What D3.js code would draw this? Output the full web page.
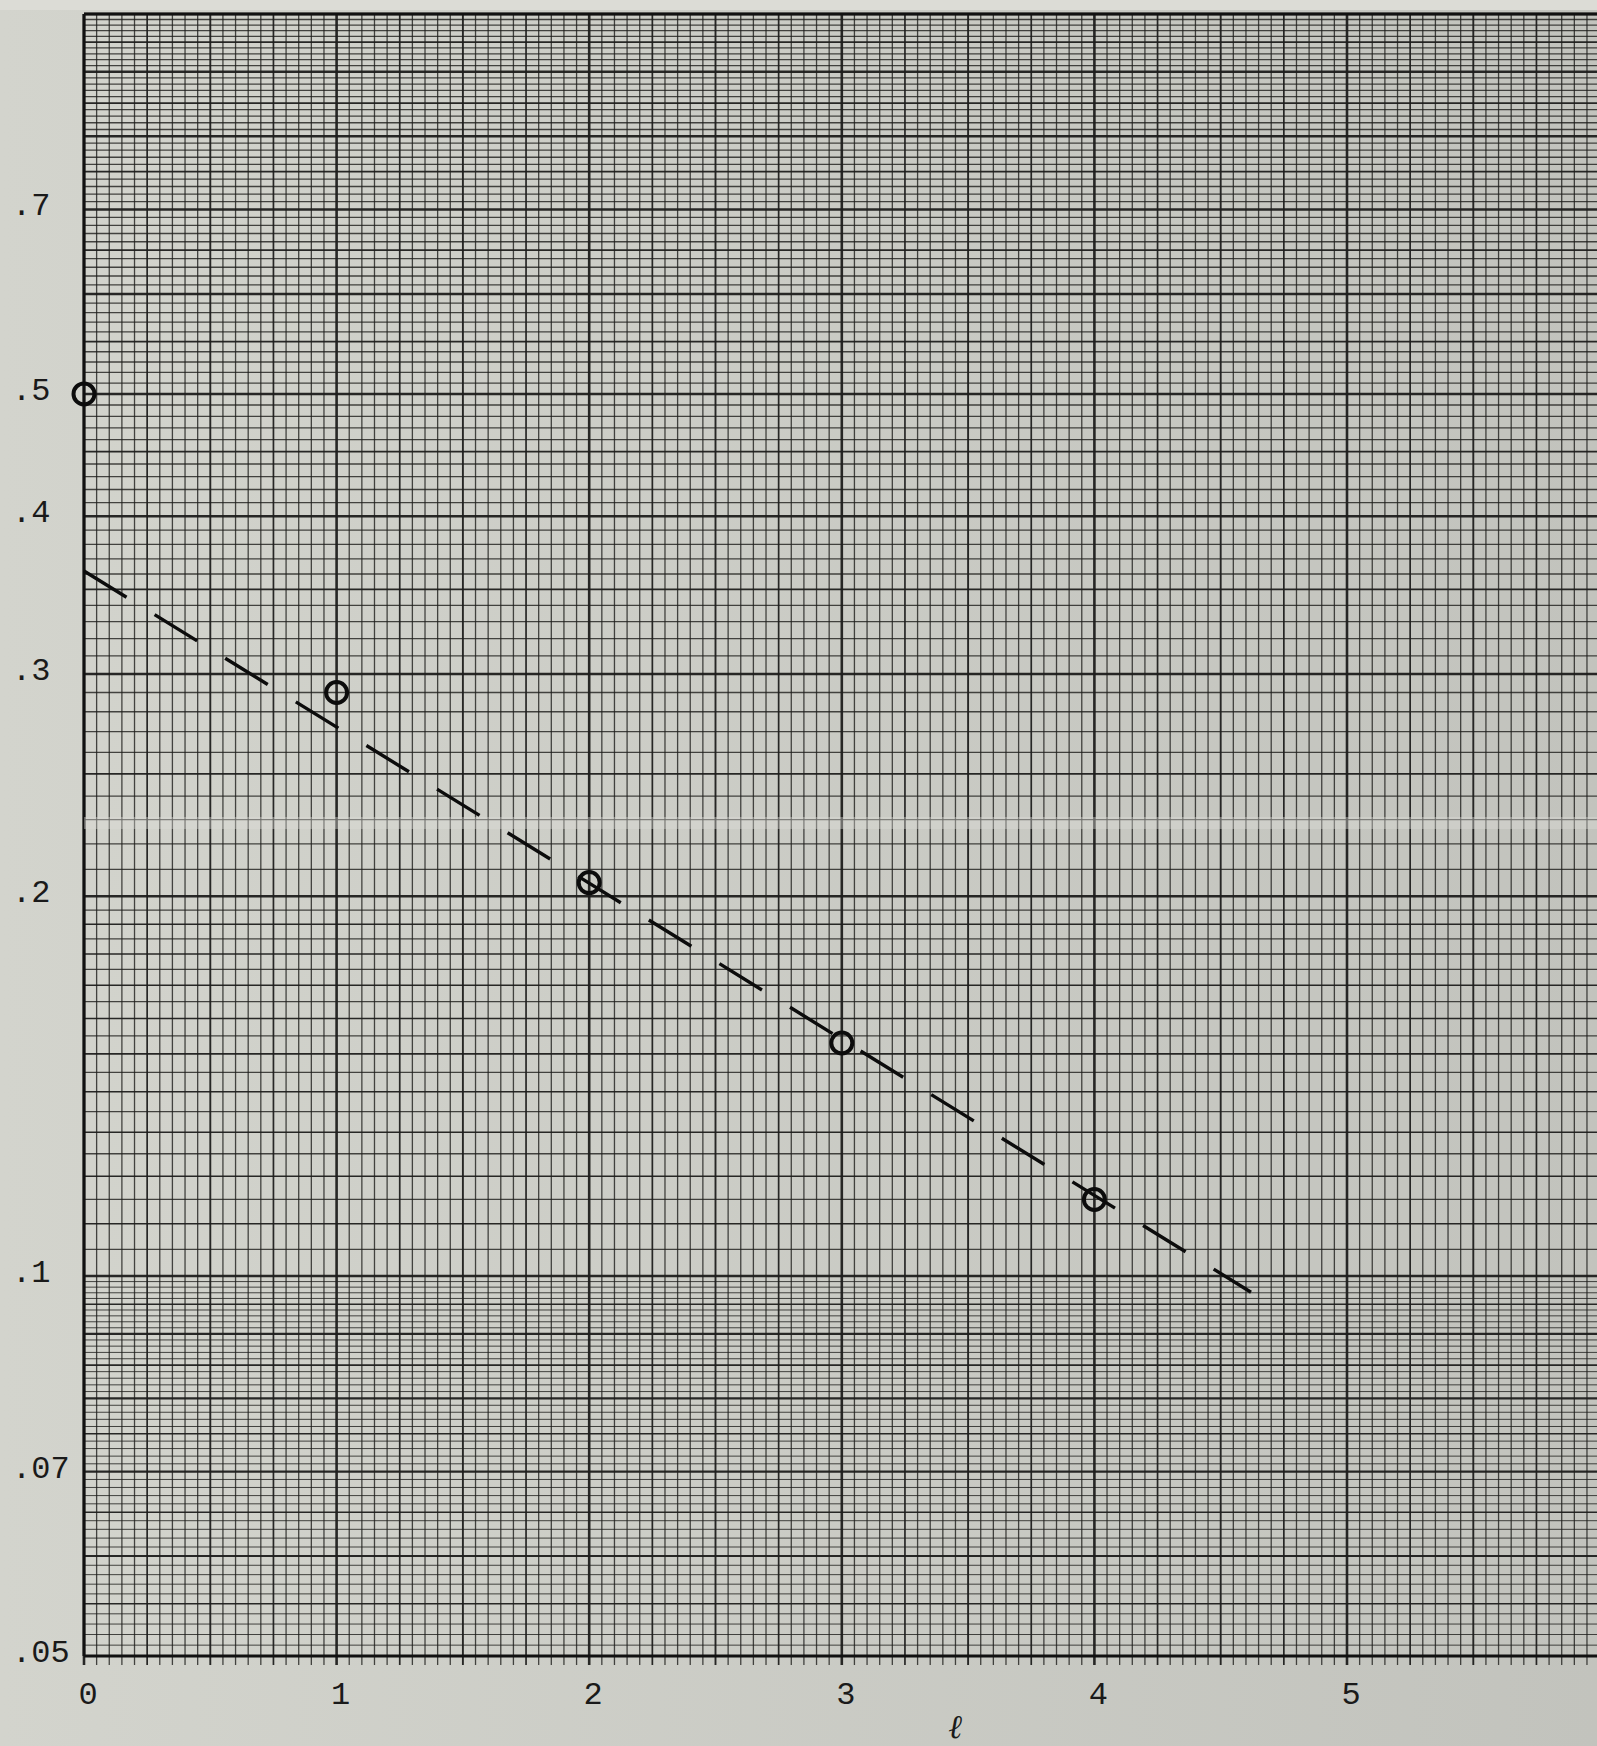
<!DOCTYPE html>
<html>
<head>
<meta charset="utf-8">
<script src="https://cdn.jsdelivr.net/npm/d3@7"></script>
<style>
  html, body { margin: 0; padding: 0; background: #cfd0c9; }
  svg { display: block; }
</style>
</head>
<body>
<div id="chart"></div>
<script>
const lValues = [0, 1, 2, 3, 4];
const ratioValues = [0.50, 0.29, 0.205, 0.153, 0.115];

// hand drawn dashed fit line, its two end points
const fitL = [0, 4.62];
const fitValues = [0.362, 0.0971];

const xTicks = [0, 1, 2, 3, 4, 5];
const xTickLabels = ['0', '1', '2', '3', '4', '5'];
const yTicks = [0.7, 0.5, 0.4, 0.3, 0.2, 0.1, 0.07, 0.05];
const yTickLabels = ['.7', '.5', '.4', '.3', '.2', '.1', '.07', '.05'];
const xLabel = 'ℓ';

const W = 1597, H = 1746;
const margin = { top: 14, left: 84, bottom: 90 };

const x = d3.scaleLinear().domain([0, 6]).range([margin.left, margin.left + 6 * 252.6]);
const y = d3.scaleLog().domain([0.05, 1]).range([H - margin.bottom, margin.top]);

const svg = d3.select('#chart').append('svg').attr('width', W).attr('height', H);

// paper tone, a bit darker to the right like the scan
const grad = svg.append('defs').append('linearGradient').attr('id', 'paper');
grad.append('stop').attr('offset', '0%').attr('stop-color', '#d3d4cd');
grad.append('stop').attr('offset', '100%').attr('stop-color', '#c2c3bd');
svg.append('rect').attr('width', W).attr('height', H).attr('fill', 'url(#paper)');
svg.append('rect').attr('x', 0).attr('y', 0).attr('width', W).attr('height', 10).attr('fill', '#dcdcd6');

const [y0, y1] = y.range();
const [x0, x1] = x.range();

// graph paper rulings
const vLines = d3.range(0, 121).map(i => i * 0.05);
const hLines = [].concat(
  d3.range(50, 100).map(i => i / 1000),
  d3.range(20, 40).map(i => i / 200),
  d3.range(20, 101).map(i => i / 100)
);

const vWidth = v => {
  const k = Math.round(v * 20);
  if (k % 20 === 0) return 2.6;
  if (k % 10 === 0) return 1.9;
  if (k % 5 === 0) return 1.7;
  return 1.3;
};
const hWidth = v => {
  const k = Math.round(v * 1000);
  if (k % 100 === 0) return 2.5;
  if (k < 100) {
    if (k % 10 === 0) return 2.1;
    if (k % 5 === 0) return 1.6;
    return 1.0;
  }
  if (k % 50 === 0) return 1.8;
  if (k < 200 && k % 10 === 0) return 1.5;
  return 1.3;
};

const grid = svg.append('g').attr('stroke', '#1e1e1c');
grid.selectAll('line.h')
  .data(hLines)
  .enter()
  .append('line')
  .attr('class', 'h')
  .attr('x1', x0).attr('x2', x1)
  .attr('y1', d => y(d)).attr('y2', d => y(d))
  .attr('stroke-width', d => hWidth(d))
  .attr('stroke-opacity', d => hWidth(d) > 1.4 ? 0.95 : 0.8);

grid.selectAll('line.v')
  .data(vLines)
  .enter()
  .append('line')
  .attr('class', 'v')
  .attr('x1', d => x(d)).attr('x2', d => x(d))
  .attr('y1', y1).attr('y2', y0 + 9)
  .attr('stroke-width', d => vWidth(d))
  .attr('stroke-opacity', d => vWidth(d) > 1.4 ? 0.95 : 0.8);

// borders
svg.append('line').attr('x1', x0).attr('x2', x0).attr('y1', y1).attr('y2', y0)
  .attr('stroke', '#111').attr('stroke-width', 3);
svg.append('line').attr('x1', x0).attr('x2', x1).attr('y1', y0).attr('y2', y0)
  .attr('stroke', '#111').attr('stroke-width', 3);
svg.append('line').attr('x1', x0).attr('x2', x1).attr('y1', y1).attr('y2', y1)
  .attr('stroke', '#111').attr('stroke-width', 3);

// scanner smear across the sheet
svg.append('rect').attr('x', x0).attr('y', 817).attr('width', x1 - x0).attr('height', 12)
  .attr('fill', '#dcdcd6').attr('opacity', 0.4);

// dashed fit line
const line = d3.line()
  .x(d => x(d[0]))
  .y(d => y(d[1]));
svg.append('path')
  .attr('d', line(fitL.map((l, i) => [l, fitValues[i]])))
  .attr('fill', 'none')
  .attr('stroke', '#0c0c0c')
  .attr('stroke-width', 3.4)
  .attr('stroke-dasharray', '50 33');

// data circles
svg.selectAll('circle.pt')
  .data(lValues.map((l, i) => ({ l, v: ratioValues[i] })))
  .enter()
  .append('circle')
  .attr('class', 'pt')
  .attr('cx', d => x(d.l))
  .attr('cy', d => y(d.v))
  .attr('r', 10.5)
  .attr('fill', 'none')
  .attr('stroke', '#0c0c0c')
  .attr('stroke-width', 4);

// typed labels
const font = "'Liberation Mono', 'DejaVu Sans Mono', monospace";
svg.selectAll('text.yl')
  .data(yTicks)
  .enter()
  .append('text')
  .attr('class', 'yl')
  .attr('x', 12)
  .attr('y', d => y(d) + 6)
  .attr('font-family', font)
  .attr('font-size', 32)
  .attr('fill', '#1a1a1a')
  .text((d, i) => yTickLabels[i]);

svg.selectAll('text.xl')
  .data(xTicks)
  .enter()
  .append('text')
  .attr('class', 'xl')
  .attr('x', d => x(d) + 4)
  .attr('y', 1704)
  .attr('text-anchor', 'middle')
  .attr('font-family', font)
  .attr('font-size', 32)
  .attr('fill', '#1a1a1a')
  .text((d, i) => xTickLabels[i]);

svg.append('text')
  .attr('x', 955)
  .attr('y', 1738)
  .attr('text-anchor', 'middle')
  .attr('font-family', "'DejaVu Serif', serif")
  .attr('font-style', 'italic')
  .attr('font-size', 33)
  .attr('fill', '#1a1a1a')
  .text(xLabel);
</script>
</body>
</html>
